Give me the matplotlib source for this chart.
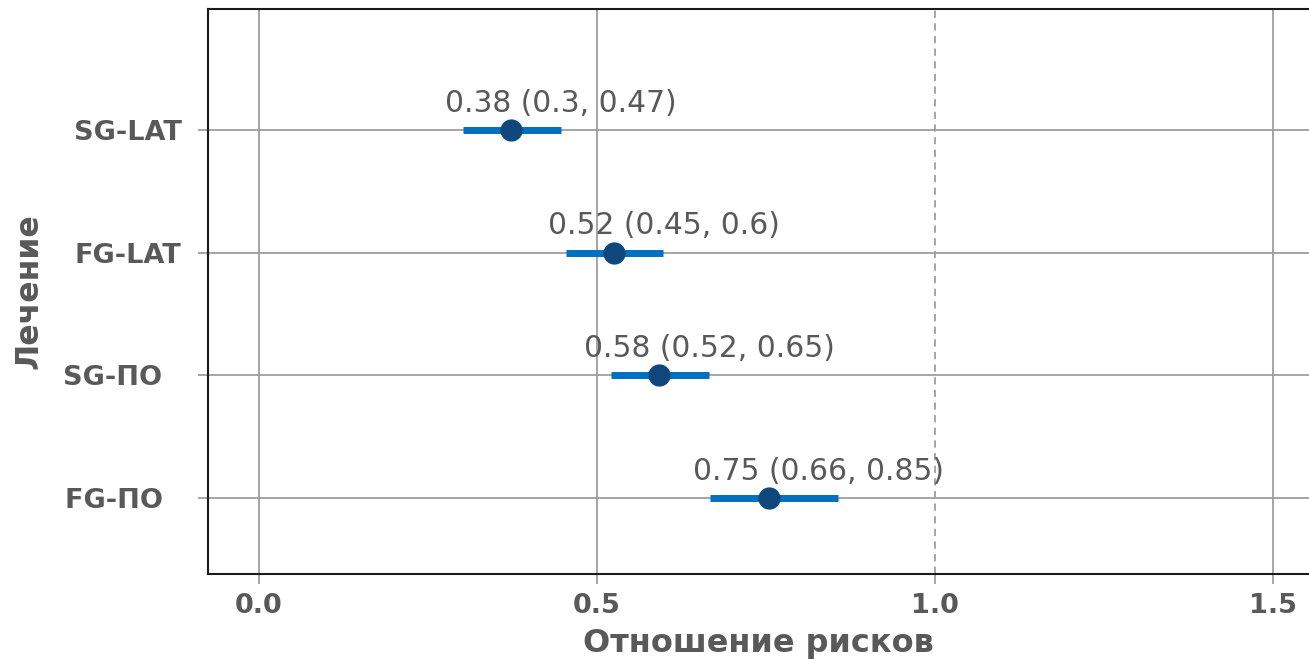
import matplotlib
matplotlib.use("Agg")
import matplotlib.pyplot as plt

treatments = ["SG-LAT", "FG-LAT", "SG-ПО  ", "FG-ПО  "]
hr = [0.373, 0.525, 0.592, 0.754]
lower = [0.302, 0.454, 0.521, 0.667]
upper = [0.447, 0.598, 0.666, 0.857]
labels = ["0.38 (0.3, 0.47)", "0.52 (0.45, 0.6)", "0.58 (0.52, 0.65)", "0.75 (0.66, 0.85)"]
xticks = [0.0, 0.5, 1.0, 1.5]
xticklabels = ["0.0", "0.5", "1.0", "1.5"]

plt.rcParams['font.family'] = ['DejaVu Sans']
TXT = "#595959"
GRID = "#9e9e9e"
LINE = "#0070C0"
PT = "#0F477C"

fig = plt.figure(figsize=(13.09, 6.59), dpi=100)
ax = fig.add_axes([208/1309, 1-574/659, 1-208/1309, (574-9)/659])

n = len(treatments)
ys = [n - 1 - i for i in range(n)]

ax.set_xlim(-0.0754, 1.553)
ax.set_ylim(-0.62, n - 1 + 0.99)

ax.set_xticks(xticks)
ax.set_xticklabels(xticklabels)
ax.set_yticks(ys)
ax.set_yticklabels(treatments)
ax.grid(True, color=GRID, linewidth=1.3, zorder=0)
ax.set_axisbelow(True)
ax.xaxis.get_gridlines()[2].set_visible(False)
ax.axvline(1.0, color=GRID, linestyle=(0, (4, 3)), linewidth=1.3, zorder=0)

for y, h, lo, hi, lab in zip(ys, hr, lower, upper, labels):
    ax.plot([lo, hi], [y, y], color=LINE, linewidth=5, solid_capstyle='butt', zorder=3)
    ax.plot([h], [y], 'o', color=PT, markersize=15, zorder=4)
    ax.annotate(lab, xy=(h + 0.074, y), xytext=(0, 9), textcoords='offset points',
                ha='center', va='bottom', fontsize=21.4, color=TXT, zorder=5)

for side in ['left', 'bottom', 'top']:
    ax.spines[side].set_color('#1a1a1a')
    ax.spines[side].set_linewidth(1.5)
ax.spines['right'].set_visible(False)

ax.tick_params(axis='both', colors=GRID, length=7, width=1.3, labelcolor=TXT, labelsize=19.5)
ax.tick_params(axis='y', pad=12)
ax.tick_params(axis='x', pad=7)
for t in ax.get_xticklabels() + ax.get_yticklabels():
    t.set_fontweight('bold')

ax.set_xlabel("Отношение рисков", fontsize=23, fontweight='bold', color=TXT, labelpad=6)
ax.set_ylabel("Лечение", fontsize=22.7, fontweight='bold', color=TXT, labelpad=14)

fig.savefig("out.png", dpi=100)
